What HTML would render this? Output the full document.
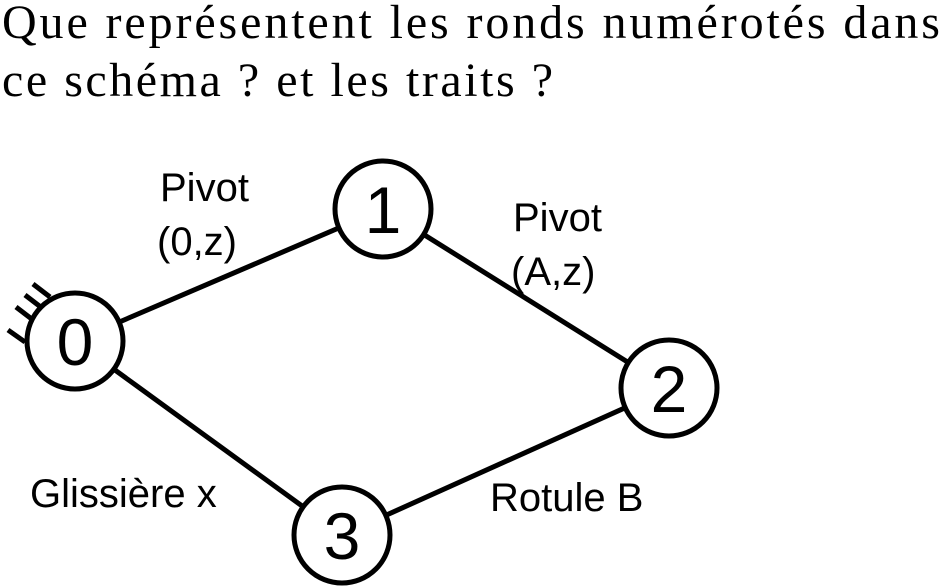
<!DOCTYPE html>
<html><head><meta charset="utf-8"><style>
html,body{margin:0;padding:0;background:#fff;}
svg{display:block;}
.q{font-family:"Liberation Serif",serif;font-size:48px;fill:#000;}
.l{font-family:"Liberation Sans",sans-serif;font-size:40px;fill:#000;}
.n{font-family:"Liberation Sans",sans-serif;font-size:66px;fill:#000;}
</style></head><body>
<svg width="942" height="586" viewBox="0 0 942 586">
<text class="q" x="2" y="38" textLength="938" lengthAdjust="spacing">Que représentent les ronds numérotés dans</text>
<text class="q" x="2" y="96" textLength="551" lengthAdjust="spacing">ce schéma ? et les traits ?</text>
<g stroke="#000" stroke-width="5">
<line x1="75" y1="341" x2="383" y2="209"/>
<line x1="383" y1="209" x2="669" y2="388"/>
<line x1="75" y1="341" x2="342" y2="535"/>
<line x1="342" y1="535" x2="669" y2="388"/>
</g>
<g stroke="#000" stroke-width="5">
<line x1="33" y1="284" x2="50" y2="297"/>
<line x1="25" y1="295" x2="42" y2="308"/>
<line x1="16" y1="307" x2="33" y2="320"/>
<line x1="8" y1="330" x2="25" y2="342"/>
</g>
<g fill="#fff" stroke="#000" stroke-width="5">
<circle cx="75" cy="341" r="48"/>
<circle cx="383" cy="209" r="48"/>
<circle cx="669" cy="388" r="48"/>
<circle cx="342" cy="535" r="48"/>
</g>
<text class="n" x="75" y="365" text-anchor="middle">0</text>
<text class="n" x="383" y="233" text-anchor="middle">1</text>
<text class="n" x="669" y="412" text-anchor="middle">2</text>
<text class="n" x="342" y="559" text-anchor="middle">3</text>
<text class="l" x="160" y="201">Pivot</text>
<text class="l" x="157" y="255">(0,z)</text>
<text class="l" x="513" y="231">Pivot</text>
<text class="l" x="511" y="285">(A,z)</text>
<text class="l" x="30" y="507">Glissière x</text>
<text class="l" x="490" y="511">Rotule B</text>
</svg>
</body></html>
